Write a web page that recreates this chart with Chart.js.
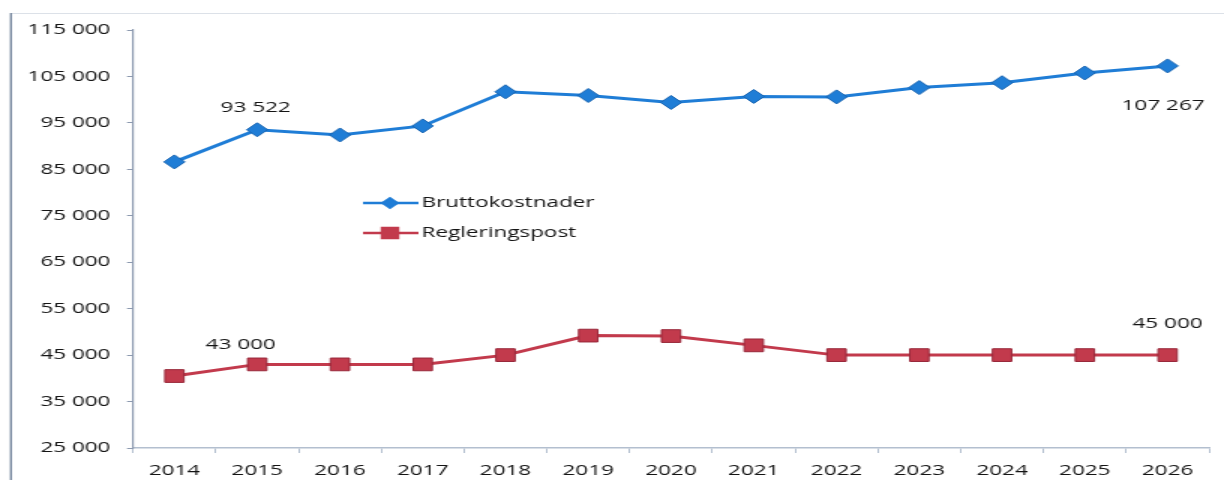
<!DOCTYPE html>
<html>
<head>
<meta charset="utf-8">
<script src="https://cdn.jsdelivr.net/npm/chart.js@4.4.1/dist/chart.umd.min.js"></script>
<style>
html, body { margin: 0; padding: 0; background: #ffffff; overflow: hidden; }
#chart { display: block; }
</style>
</head>
<body>
<canvas id="chart" width="816" height="480" style="width:1224px;height:480px"></canvas>
<script>
// ---- data ----
const years = ['2014', '2015', '2016', '2017', '2018', '2019', '2020', '2021', '2022', '2023', '2024', '2025', '2026'];
const bruttokostnader = [86600, 93522, 92400, 94350, 101700, 100900, 99400, 100700, 100600, 102600, 103650, 105750, 107267];
const regleringspost = [40500, 43000, 43000, 43000, 45000, 49200, 49100, 47100, 45000, 45000, 45000, 45000, 45000];
const seriesNames = ['Bruttokostnader', 'Regleringspost'];
const yMin = 25000;
const yMax = 115000;
const yStep = 10000;
// which points carry a value label: [seriesIndex, pointIndex]
const labelledPoints = [[0, 1], [0, 12], [1, 1], [1, 12]];

// ---- styling ----
const BLUE = '#1f7dd6';
const BLUE_DARK = '#1763b0';
const RED = '#c23a4c';
const RED_DARK = '#98283a';
const TEXT = '#141414';
const FONT = '"Open Sans"';
// label offsets (canvas px, relative to library-computed point position)
const labelOffsets = [[-1, -22], [-3, 40], [-11, -20], [0, -31]];

function fmt(v) {
  return String(Math.round(v)).replace(/\B(?=(\d{3})+(?!\d))/g, ' ');
}

const framePlugin = {
  id: 'frame',
  beforeDraw(chart) {
    const ctx = chart.ctx;
    ctx.save();
    ctx.strokeStyle = '#dce1e8';
    ctx.lineWidth = 1;
    ctx.beginPath();
    ctx.moveTo(7.3, 13.5);
    ctx.lineTo(chart.width, 13.5);
    ctx.stroke();
    ctx.strokeStyle = '#7a8aa0';
    ctx.lineWidth = 1.4;
    ctx.beginPath();
    ctx.moveTo(7.3, 13);
    ctx.lineTo(7.3, chart.height);
    ctx.stroke();
    ctx.restore();
  }
};

const valueLabelPlugin = {
  id: 'valueLabels',
  afterDatasetsDraw(chart) {
    const ctx = chart.ctx;
    ctx.save();
    ctx.font = '15px ' + FONT;
    ctx.fillStyle = TEXT;
    ctx.textAlign = 'center';
    ctx.textBaseline = 'middle';
    labelledPoints.forEach(([s, i], k) => {
      const el = chart.getDatasetMeta(s).data[i];
      const v = chart.data.datasets[s].data[i];
      const [dx, dy] = labelOffsets[k];
      ctx.fillText(fmt(v), el.x + dx, el.y + dy);
    });
    ctx.restore();
  }
};

const legendPlugin = {
  id: 'innerLegend',
  afterDraw(chart) {
    const ctx = chart.ctx;
    const rows = [203, 233];
    const x0 = 242, x1 = 279, xm = 260, xt = 281;
    ctx.save();
    chart.data.datasets.forEach((ds, i) => {
      const y = rows[i];
      ctx.strokeStyle = ds.borderColor;
      ctx.lineWidth = 2.5;
      ctx.beginPath();
      ctx.moveTo(x0, y);
      ctx.lineTo(x1, y);
      ctx.stroke();
      Chart.helpers.drawPoint(ctx, {
        pointStyle: ds.pointStyle,
        radius: i === 0 ? 4.5 : 7,
        borderWidth: 1
      }, xm, y);
      ctx.fillStyle = ds.pointBackgroundColor;
      ctx.strokeStyle = ds.pointBorderColor;
      ctx.fill();
      ctx.fillStyle = TEXT;
      ctx.font = '15px ' + FONT;
      ctx.textAlign = 'left';
      ctx.textBaseline = 'middle';
      ctx.fillText(ds.label, xt, y);
    });
    ctx.restore();
  }
};

function build() {
  Chart.defaults.font.family = FONT;
  Chart.defaults.font.size = 15;
  Chart.defaults.color = TEXT;
  new Chart(document.getElementById('chart'), {
    type: 'line',
    data: {
      labels: years,
      datasets: [
        {
          label: seriesNames[0],
          data: bruttokostnader,
          borderColor: BLUE,
          backgroundColor: BLUE,
          borderWidth: 3,
          pointStyle: 'rectRot',
          pointRadius: 7,
          pointBackgroundColor: BLUE,
          pointBorderColor: BLUE_DARK,
          pointBorderWidth: 1,
          tension: 0
        },
        {
          label: seriesNames[1],
          data: regleringspost,
          borderColor: RED,
          backgroundColor: RED,
          borderWidth: 3,
          pointStyle: 'rect',
          pointRadius: 9,
          pointBackgroundColor: RED,
          pointBorderColor: RED_DARK,
          pointBorderWidth: 1,
          tension: 0
        }
      ]
    },
    options: {
      responsive: false,
      devicePixelRatio: 1,
      animation: false,
      layout: { padding: { top: 30, right: 0, bottom: 1, left: 0 } },
      plugins: {
        legend: { display: false },
        tooltip: { enabled: false }
      },
      scales: {
        x: {
          offset: true,
          grid: { offset: true, drawOnChartArea: false, drawTicks: true, tickLength: 5, color: '#b3bfcf' },
          border: { display: true, color: '#b3bfcf', width: 1.5 },
          ticks: { padding: 9, autoSkip: false, maxRotation: 0, color: TEXT, font: { size: 15 } },
          afterFit(scale) { scale.height = 31; }
        },
        y: {
          min: yMin,
          max: yMax,
          grid: { drawOnChartArea: false, drawTicks: true, tickLength: 4, color: '#8d9ab0' },
          border: { display: true, color: '#8d9ab0', width: 1.2 },
          ticks: { stepSize: yStep, padding: 11, color: TEXT, font: { size: 15 }, callback: v => fmt(v) },
          afterFit(scale) { scale.width = 88.7; }
        }
      }
    },
    plugins: [framePlugin, valueLabelPlugin, legendPlugin]
  });
}

if (document.fonts && document.fonts.load) {
  document.fonts.load('15px "Open Sans"').then(build, build);
} else {
  build();
}
</script>
</body>
</html>
